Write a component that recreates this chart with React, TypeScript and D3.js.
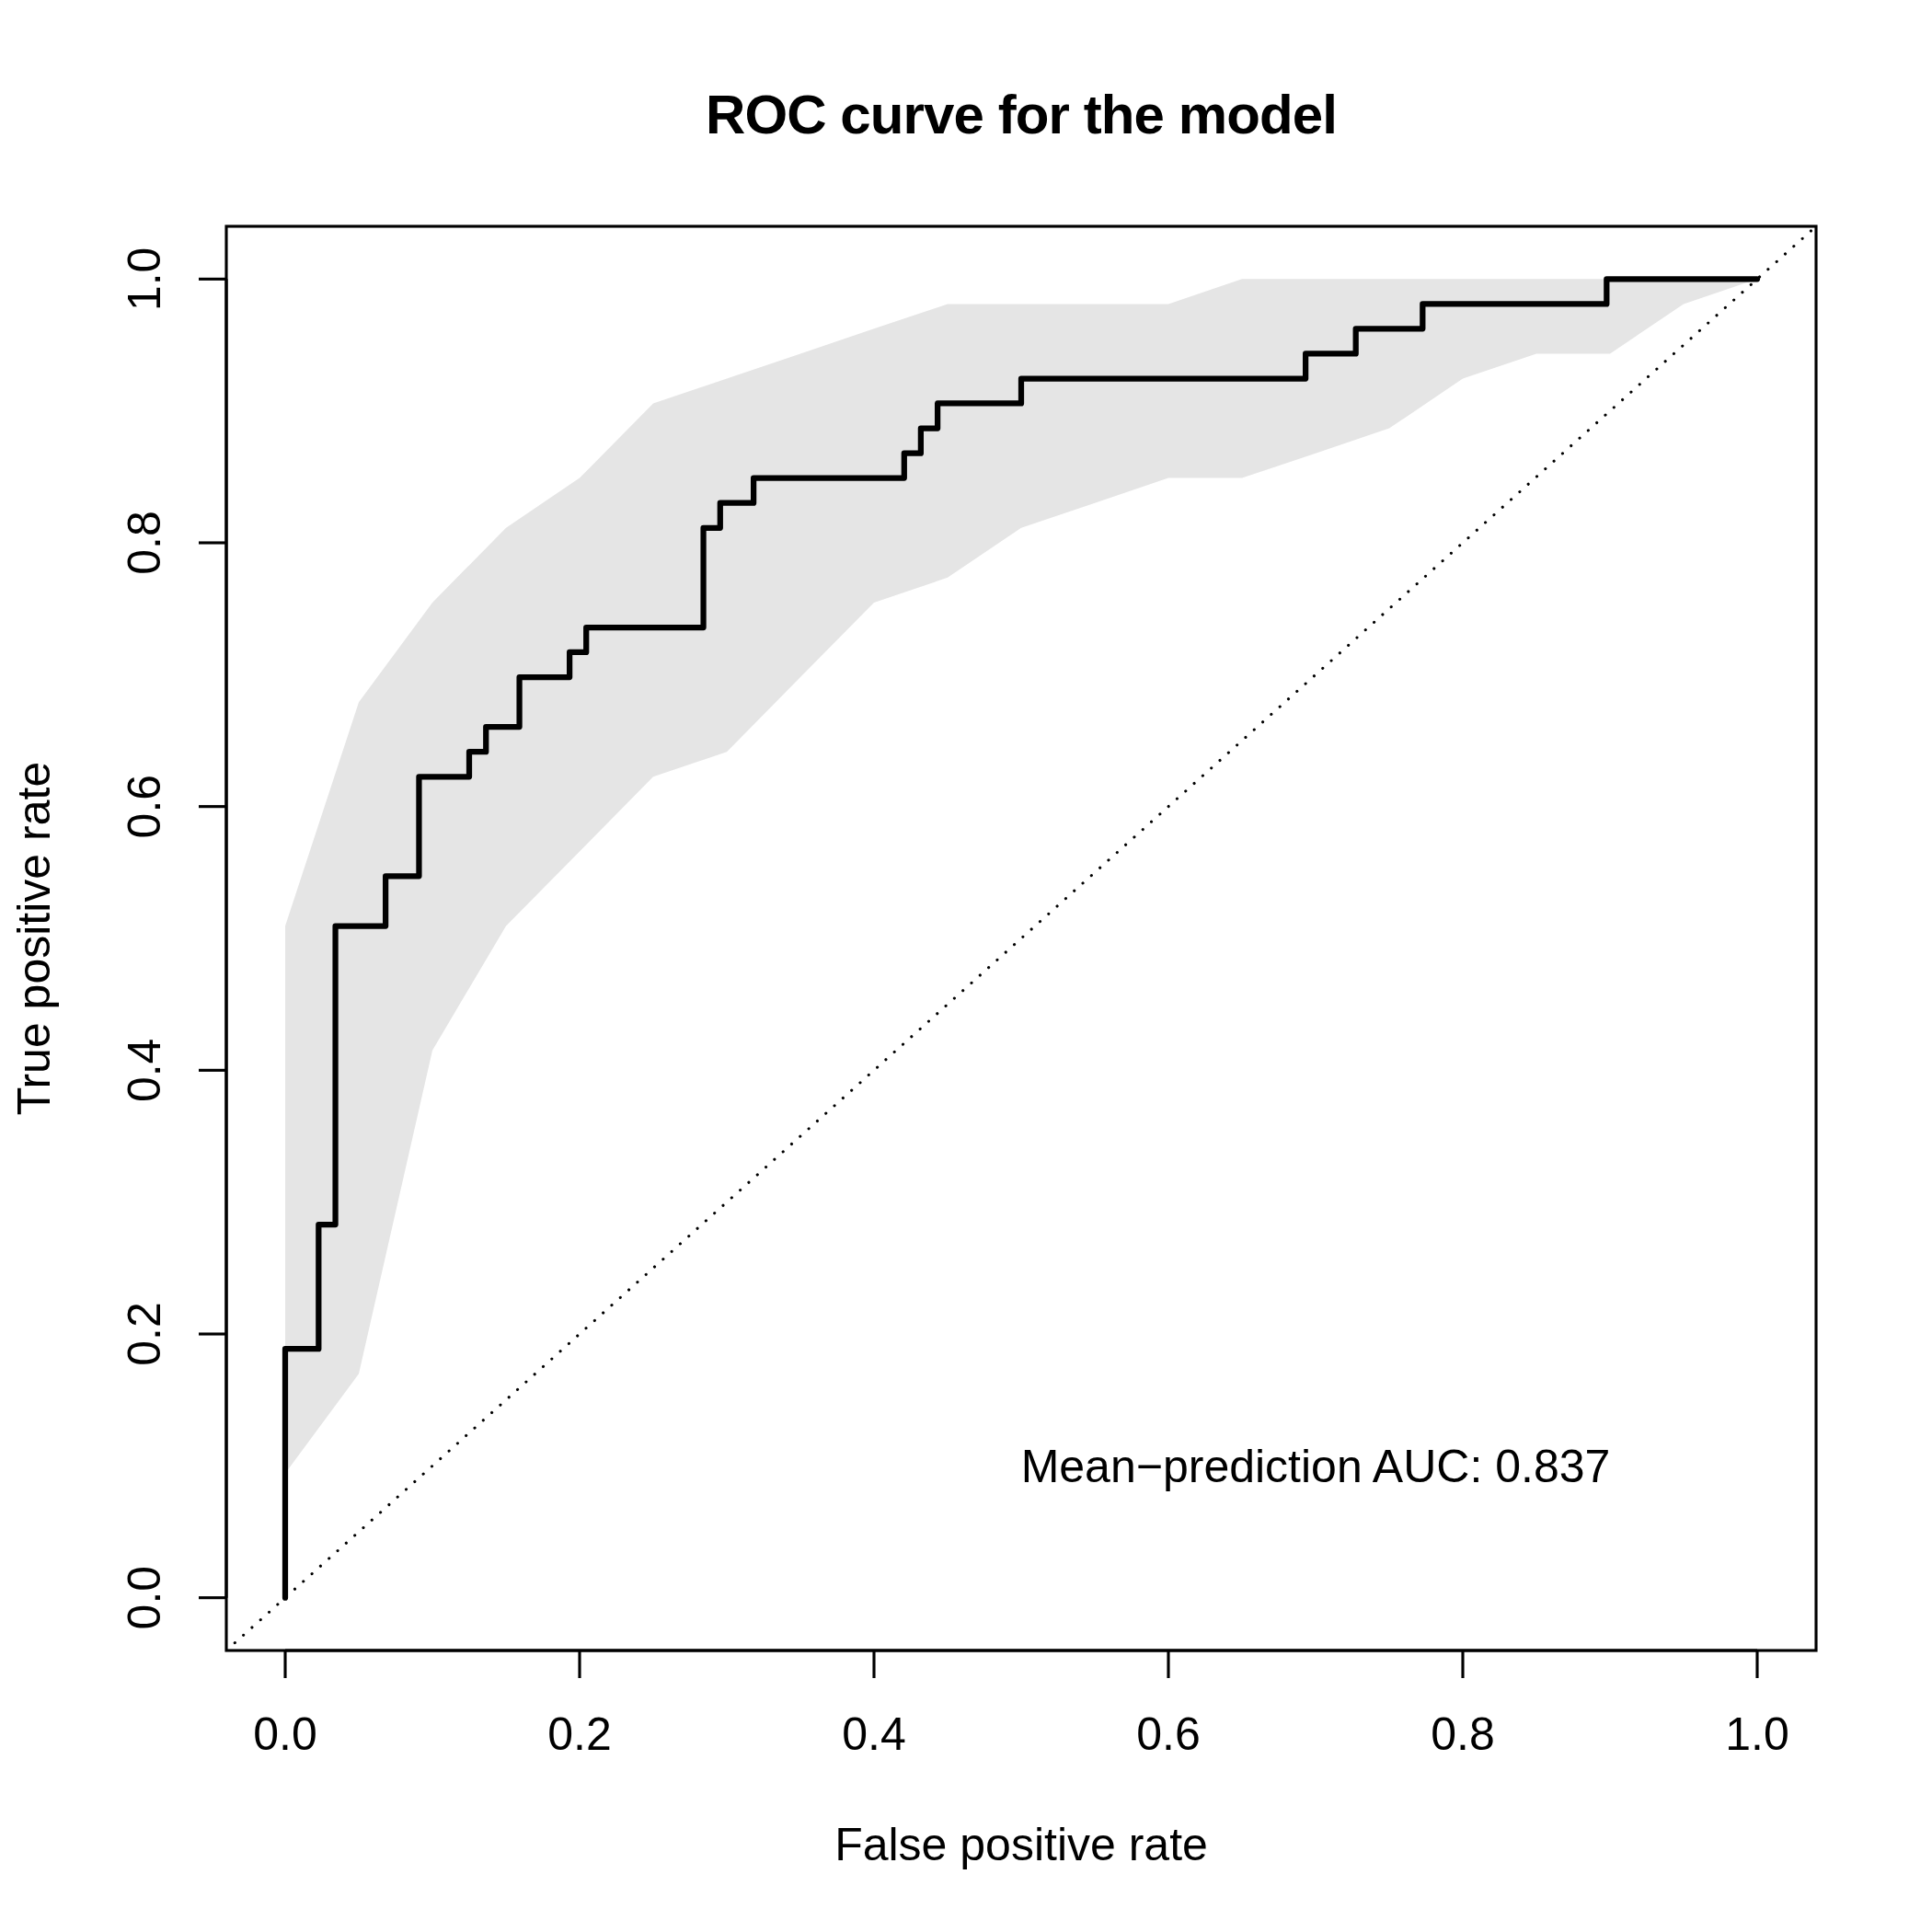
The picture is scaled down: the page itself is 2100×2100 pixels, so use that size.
import React from "react";
import * as d3 from "d3";

// ROC curve step points (false positive rate, true positive rate)
const rocFpr = [0, 0.0227, 0.0341, 0.0682, 0.0909, 0.125, 0.1364, 0.1591, 0.1932, 0.2045, 0.2841, 0.2955, 0.3182, 0.4205, 0.4318, 0.4432, 0.5, 0.6932, 0.7273, 0.7727, 0.8977, 1];
const rocTpr = [0, 0.1887, 0.283, 0.5094, 0.5472, 0.6226, 0.6415, 0.6604, 0.6981, 0.717, 0.7358, 0.8113, 0.8302, 0.8491, 0.8679, 0.8868, 0.9057, 0.9245, 0.9434, 0.9623, 0.9811, 1];

// Confidence band
const bandFpr = [0, 0.05, 0.1, 0.15, 0.2, 0.25, 0.3, 0.35, 0.4, 0.45, 0.5, 0.55, 0.6, 0.65, 0.7, 0.75, 0.8, 0.85, 0.9, 0.95, 1];
const bandUpper = [0.5094, 0.6792, 0.7547, 0.8113, 0.8491, 0.9057, 0.9245, 0.9434, 0.9623, 0.9811, 0.9811, 0.9811, 0.9811, 1, 1, 1, 1, 1, 1, 1, 1];
const bandLower = [0.0943, 0.1698, 0.4151, 0.5094, 0.566, 0.6226, 0.6415, 0.6981, 0.7547, 0.7736, 0.8113, 0.8302, 0.8491, 0.8491, 0.8679, 0.8868, 0.9245, 0.9434, 0.9434, 0.9811, 1];

const xTicks = [0, 0.2, 0.4, 0.6, 0.8, 1.0];
const yTicks = [0, 0.2, 0.4, 0.6, 0.8, 1.0];

const titleText = "ROC curve for the model";
const xLabel = "False positive rate";
const yLabel = "True positive rate";
const aucText = "Mean\u2212prediction AUC: 0.837";
const aucPos = [0.7, 0.1];

const W = 2100;
const H = 2100;
const LINE = 60;
const left = 246, right = 1974, top = 246, bottom = 1794;
const FONT = "'Liberation Sans', Arial, Helvetica, sans-serif";
const LWD = 3.125;

export default function App() {
  const x = d3.scaleLinear().domain([-0.04, 1.04]).range([left, right]);
  const y = d3.scaleLinear().domain([-0.04, 1.04]).range([bottom, top]);

  const bandData = bandFpr.map((f, i) => ({ f, lo: bandLower[i], hi: bandUpper[i] }));
  const area = d3
    .area<{ f: number; lo: number; hi: number }>()
    .x((d) => x(d.f))
    .y0((d) => y(d.lo))
    .y1((d) => y(d.hi));

  const rocData = rocFpr.map((f, i) => [f, rocTpr[i]] as [number, number]);
  const line = d3
    .line<[number, number]>()
    .x((d) => x(d[0]))
    .y((d) => y(d[1]))
    .curve(d3.curveStepBefore);

  const cx = (left + right) / 2;
  const cy = (top + bottom) / 2;
  const capH = 36;

  return (
    <svg
      width={W}
      height={H}
      viewBox={`0 0 ${W} ${H}`}
      style={{ position: "absolute", left: 0, top: 0, display: "block", background: "#fff" }}
      fontFamily={FONT}
    >
      <rect x={0} y={0} width={W} height={H} fill="#fff" />
      <defs>
        <clipPath id="plotclip">
          <rect x={left} y={top} width={right - left} height={bottom - top} />
        </clipPath>
      </defs>
      <g clipPath="url(#plotclip)">
        <path d={area(bandData) || ""} fill="#E5E5E5" stroke="none" />
        <line
          x1={x(-0.04)}
          y1={y(-0.04)}
          x2={x(1.04)}
          y2={y(1.04)}
          stroke="#000"
          strokeWidth={LWD}
          strokeDasharray="0.01 12.49"
          strokeLinecap="round"
        />
        <path
          d={line(rocData) || ""}
          fill="none"
          stroke="#000"
          strokeWidth={LWD * 2}
          strokeLinejoin="round"
          strokeLinecap="round"
        />
      </g>
      <text
        x={x(aucPos[0])}
        y={y(aucPos[1]) + capH / 2}
        fontSize={50}
        textAnchor="middle"
        fill="#000"
      >
        {aucText}
      </text>
      <rect
        x={left}
        y={top}
        width={right - left}
        height={bottom - top}
        fill="none"
        stroke="#000"
        strokeWidth={LWD}
      />
      {/* x axis */}
      <line x1={x(xTicks[0])} x2={x(xTicks[xTicks.length - 1])} y1={bottom} y2={bottom} stroke="#000" strokeWidth={LWD} />
      {xTicks.map((t) => (
        <g key={"xt" + t}>
          <line x1={x(t)} x2={x(t)} y1={bottom} y2={bottom + 0.5 * LINE} stroke="#000" strokeWidth={LWD} />
          <text x={x(t)} y={bottom + 1.8 * LINE} fontSize={50} textAnchor="middle" fill="#000">
            {t.toFixed(1)}
          </text>
        </g>
      ))}
      {/* y axis */}
      <line x1={left} x2={left} y1={y(yTicks[0])} y2={y(yTicks[yTicks.length - 1])} stroke="#000" strokeWidth={LWD} />
      {yTicks.map((t) => (
        <g key={"yt" + t}>
          <line x1={left} x2={left - 0.5 * LINE} y1={y(t)} y2={y(t)} stroke="#000" strokeWidth={LWD} />
          <text
            transform={`translate(${left - 1.2 * LINE},${y(t)}) rotate(-90)`}
            fontSize={50}
            textAnchor="middle"
            fill="#000"
          >
            {t.toFixed(1)}
          </text>
        </g>
      ))}
      <text x={cx} y={bottom + 3.8 * LINE} fontSize={50} textAnchor="middle" fill="#000">
        {xLabel}
      </text>
      <text
        transform={`translate(${left - 3.2 * LINE},${cy}) rotate(-90)`}
        fontSize={50}
        textAnchor="middle"
        fill="#000"
      >
        {yLabel}
      </text>
      <text x={cx} y={145} fontSize={60} fontWeight="bold" textAnchor="middle" fill="#000" letterSpacing={-0.9}>
        {titleText}
      </text>
    </svg>
  );
}
